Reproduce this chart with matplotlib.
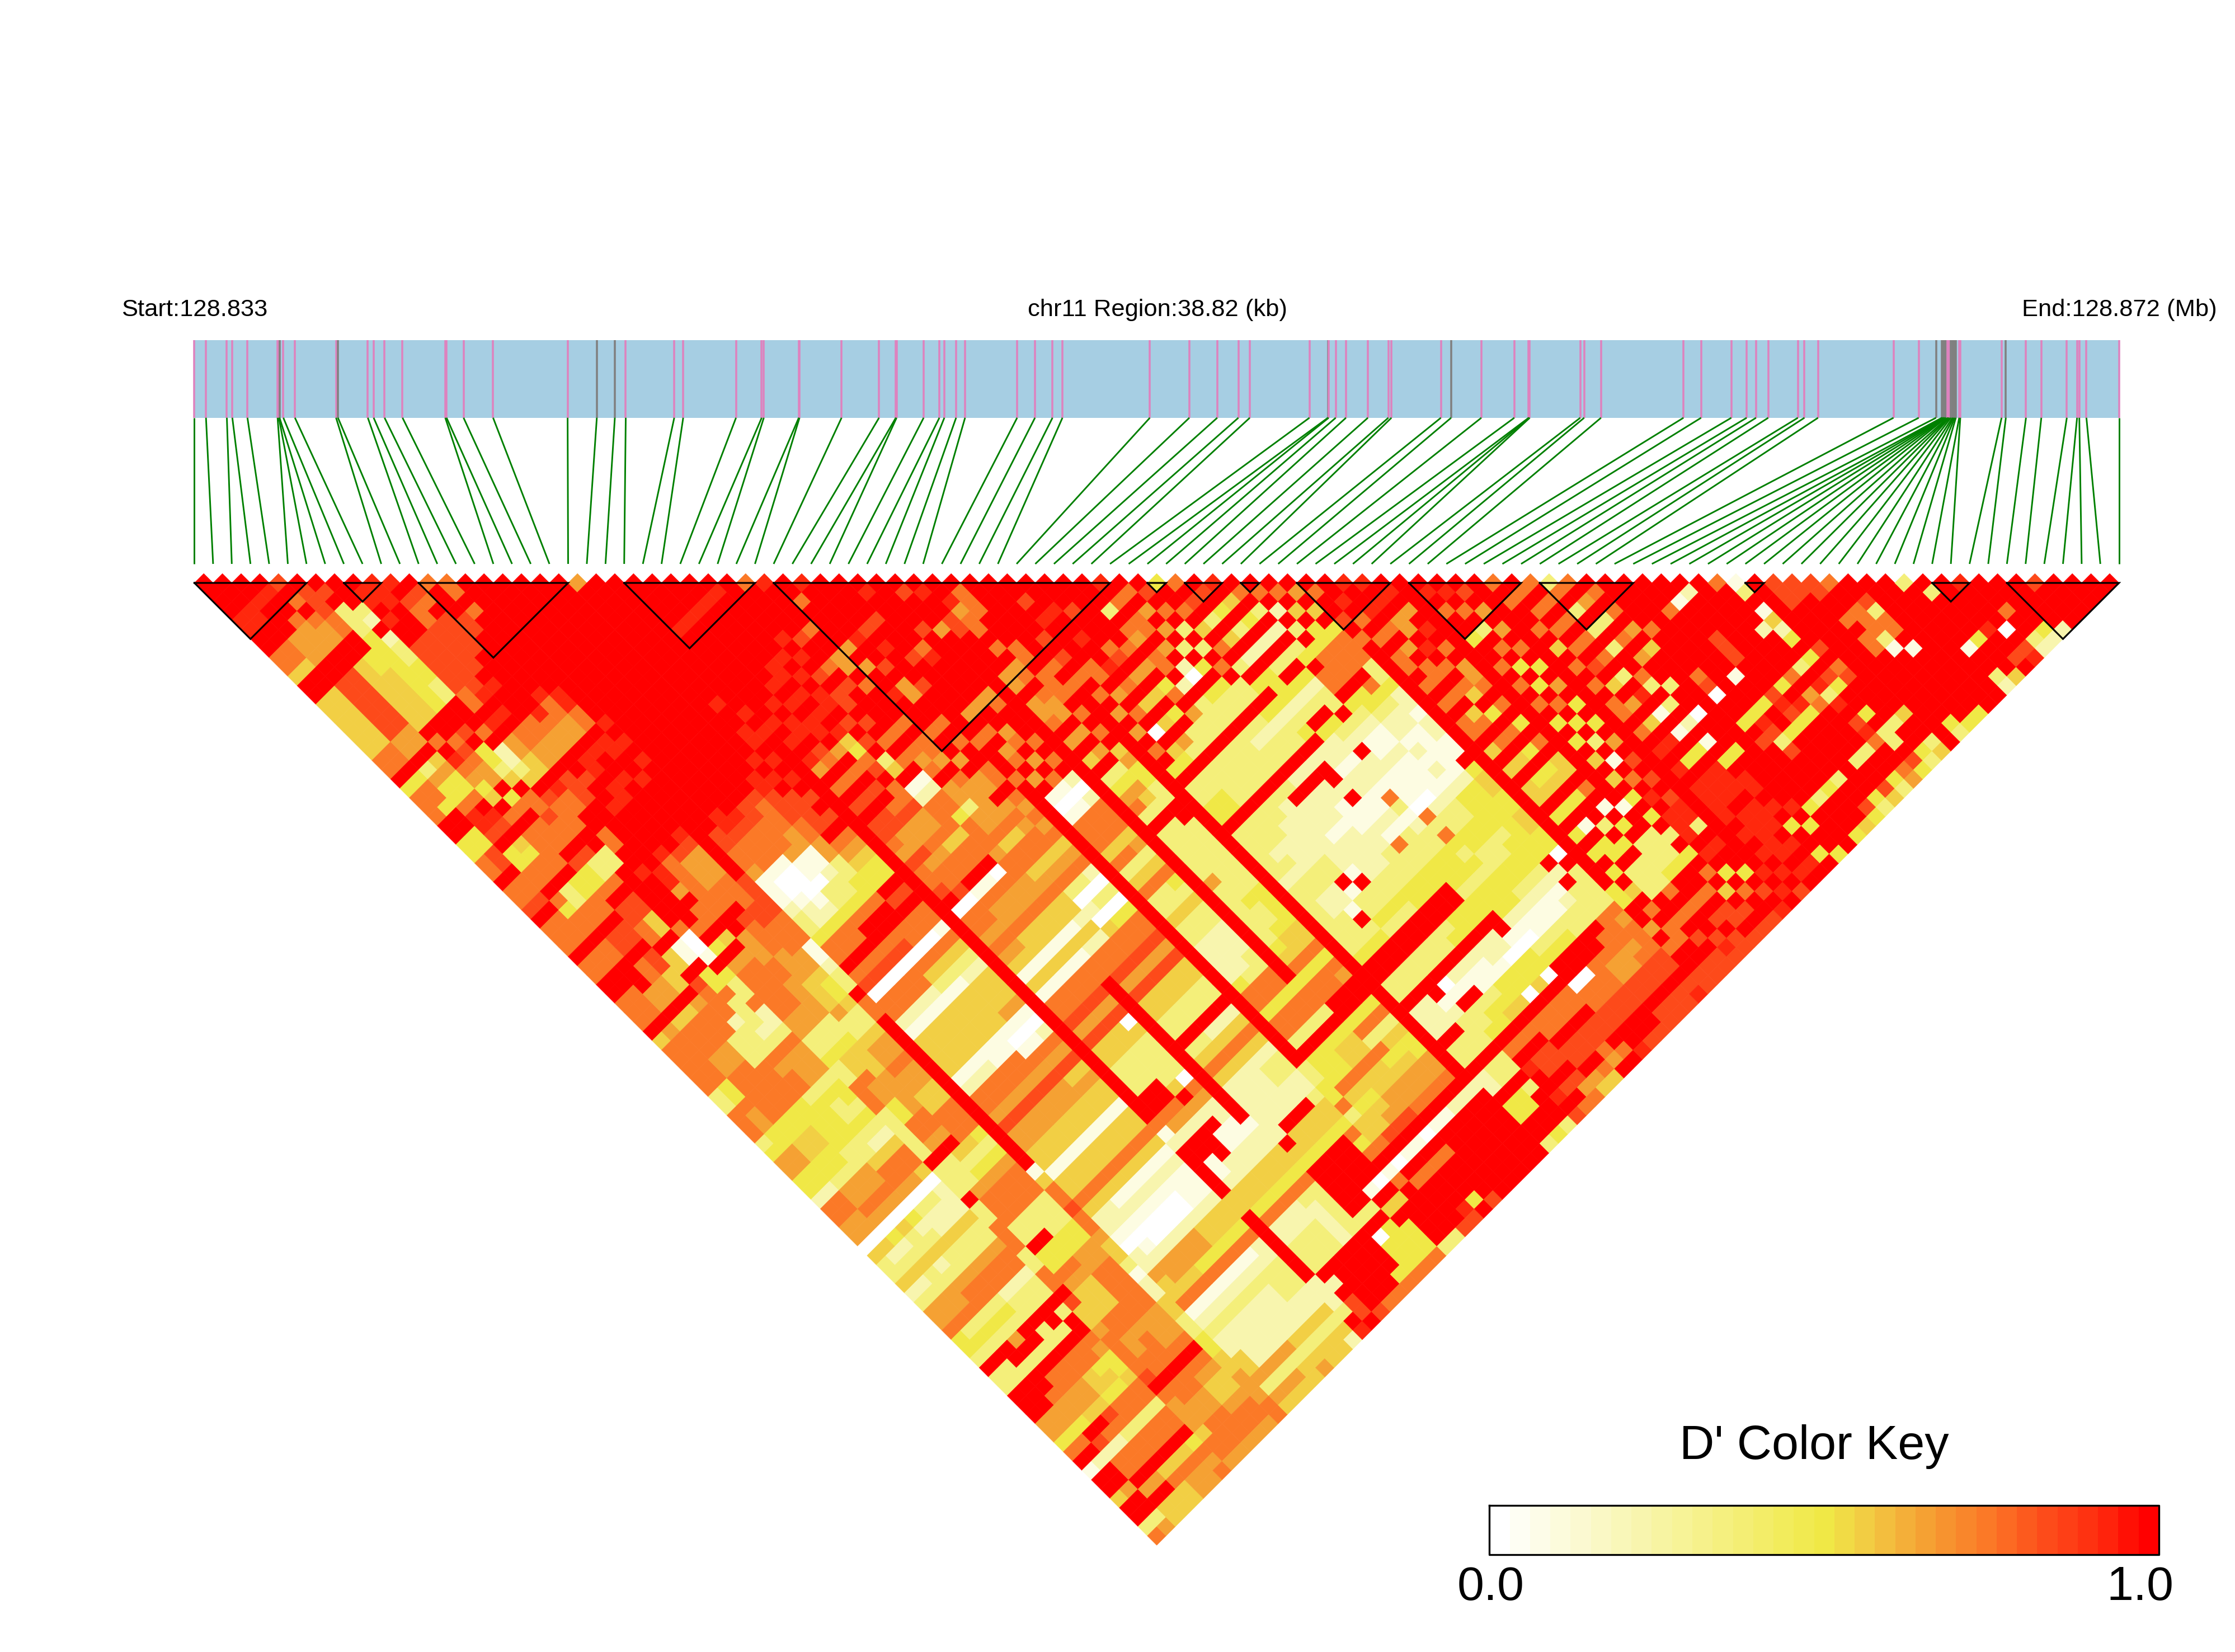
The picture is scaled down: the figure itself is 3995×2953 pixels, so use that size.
import matplotlib
matplotlib.use('Agg')
import matplotlib.pyplot as plt
from matplotlib.collections import PolyCollection, LineCollection
from matplotlib.colors import LinearSegmentedColormap

plt.rcParams['font.family'] = ['Liberation Sans', 'DejaVu Sans']

# snp positions on the gene bar (pixels of the reference), index 0..103
SNP_POS = [347.5, 368.2, 405.5, 415.3, 442.3, 496.2, 498.5, 499.7, 506.5, 527.2, 600.7, 604.1,
           657.5, 667.9, 687.4, 719.5, 795.9, 798.2, 828.6, 881.4, 1014.6, 1066.8, 1099.0,
           1118.5, 1205.2, 1221.2, 1315.6, 1361.5, 1365.3, 1427.8, 1429.1, 1504.3, 1571.3,
           1601.3, 1602.6, 1651.0, 1679.1, 1688.0, 1709.0, 1725.0, 1818.1, 1850.0, 1881.3,
           1899.1, 2055.4, 2126.0, 2175.8, 2213.6, 2234.0, 2340.6, 2373.6, 2375.0, 2387.6,
           2405.9, 2445.1, 2481.6, 2487.2, 2575.6, 2593.9, 2647.9, 2706.8, 2732.5, 2733.5,
           2734.5, 2824.7, 2831.7, 2861.8, 3009.2, 3040.7, 3094.7, 3122.1, 3138.9, 3160.7,
           3213.7, 3225.4, 3249.7, 3384.6, 3429.7, 3460.6, 3471.0, 3472.5, 3474.0, 3475.5,
           3477.0, 3478.5, 3481.5, 3483.0, 3484.5, 3487.0, 3490.0, 3492.0, 3494.0, 3496.0,
           3502.0, 3504.0, 3577.8, 3585.4, 3621.4, 3648.8, 3694.4, 3712.7, 3716.7, 3729.4, 3787.7]
GRAY_SNPS = [7, 11, 21, 22, 50, 58, 78, 79, 80, 81, 82, 83, 84, 88, 89, 90, 91, 92, 96]

LD_BLOCKS = [(0, 6), (8, 10), (12, 20), (23, 30), (31, 49), (51, 52), (53, 55), (56, 57),
             (59, 64), (65, 71), (72, 77), (83, 84), (93, 95), (97, 103)]

# D' level per cell, one string per SNP i, right aligned so the last char is j=103
LEVELS = {'0': 0.0, '1': 0.08, '2': 0.22, '3': 0.36, '4': 0.5, '5': 0.56, '6': 0.66,
          '7': 0.75, '8': 0.85, '9': 0.93, 'r': 1.0}
LD_ROWS = [
    "rrr r99rr775rr 55555577r4 777rr4477r 778r777r77 rr777r5777 7733777346 6442776605 3352366744 3r33rrr664 7r1rr5rr37",
    "rr r99rr775rr 55555577r4 774rr4488r 778r777r77 rr777r6777 7744766446 6442776605 2352366734 3r33rrr664 7r2rr6rr36",
    "r r9rrr666rr 88888866r3 6447998r44 77r7477r77 rrr66r5777 6677777445 5443667604 2353366734 3rr3rr7664 r8277r6r55",
    "r9rr7666rr 88888866r5 6447r98r54 77r3377r88 r7766r5777 6677777445 5443667605 3352367734 36r3r77665 r7277r6r55",
    "8r7r766rr 5555555r7r 97645r7r77 77r4477r88 r8855r6777 3337777444 4433667604 2353367734 3rr3r77665 87377r5755",
    "r88877rr 4455555rr7 8766r47r77 7r8447r887 7r55r87772 3337677344 4433577603 2253367723 3r33r77554 77377r5766",
    "r8r3334 4444444rr8 r4435r7787 7r8337r885 5r11r44733 3237666343 3432577603 2253367723 3rr3r77454 77377r5766",
    "rrr32r 2334433rrr 7r2235r877 7rr33rrrrr r7001r4337 2237666344 3432577502 2253367723 3r3rr76445 77377r4767",
    "r99r9 rr8888877r 9r6655r977 rr77rr9rrr rr7r4r6777 7766334337 7733333r33 3r33777337 7r85567777 8r76665776",
    "999r rr8888889r 9r7766r888 rrrrrrr996 r77r5r6777 7766334557 6644776r33 3677733r44 7655577667 7r77667776",
    "9r8 7788888r9r rr7766rr8r r9rrrr9777 777rr66677 6666334555 6666776r53 4677733r44 7655577677 7r77667776",
    "r8 7r8888rrrr rr9766r99r 99rrrrr866 677r877766 6555633566 7665577753 4677733344 6677777666 7r76556776",
    "7 rrr88rrrrr r97766r9rr 9rrrrr9866 6777887776 6544533566 7665577743 4677733344 6677777666 7r76556776",
    "77r7rrrrrr rr9977r99r r9rrrrrrrr rr88887771 1233r77rrr rrrrrrrrrr rrr1577877 6553122553 3445566677",
    "rrrrrrrrr rrrrrr9r9r 9rrrrrrr88 7761112334 77r7807721 5555127768 6655155752 2102265571 2322556365",
    "rrrrrrrr rrrrrrrrrr rrrrrrr998 7771001224 77r7807721 5555127768 6655155752 2101266571 2322226365",
    "rrrrrrr rrrrrrrrrr rrrrrrrr98 7771000124 77r7807721 5555127768 6655155751 2100266571 2322226365",
    "rrrrrr rrrrrrrrrr rrrrrrrr88 7776110334 7rr7807721 5555117768 6655155751 2100266471 2322226355",
    "rrrrr rrrrrrrrrr rrrrrrrr87 7766112334 7rr7807531 5555117768 6655155751 2100266471 2322225356",
    "rrrr rrrrrrrrrr rrrrrrr998 8877663344 7rr7707531 5555101768 6655155751 2100255471 2322225355",
    "6rr rrrrrrrrrr rrrrrr9r9r 8888r76544 r8r7707532 5556101768 5655155751 2111255471 2333225355",
    "rr rrrrrrrrrr r9rr99r9r9 r8r8r76544 r8r7717532 5556102768 5655155751 2111255472 2333225352",
    "r rrrrrrrrrr rrr9r9rrrr rrrrrrrrrr rrrrrrrrrr rrrrrrrrrr rrrrrrr712 rrrrr55rrr rrrr2223r9",
    "rrrrr9rrrr rrrrr9r9r9 6r7r8r8876 8778r07767 6515177868 55333rr762 rr11255472 2333r2r88r",
    "rrrr9rrrr rrrr9r99r8 7r7r8r8866 8677807767 6515177868 55333rr762 rrr2255472 2333rrrrr8",
    "rrr9rrrr rrr9r9r99r 6r7r8r7866 7677r17667 5515177868 5533335r62 r112255472 2333rrrrr7",
    "rr9rrrr rr99r9r9r9 5478r77866 7577r17667 5515177868 0533330762 2112255473 2222rrrrr7",
    "r9rrrr rr9r9r99r8 r8r35r1277 7577r07667 5515177rrr rrrrrrrrrr rr12255473 3333rrrr47",
    "rrrrr r9r9r8r88r 8r7r7r1277 4777677667 5515277868 5533r35752 22222r54rr rrr3r04447",
    "7rrr rr8rr7r8rr rr7r767r66 3667577567 5525277868 5533r35752 2222r554rr rrr3r44447",
    "9rr rr7rr66r7r rr7r776r76 6667577567 3020577868 5533r25752 2222r554rr rr1r5r4447",
    "rr 7rrrr6r6rr 9rrr7rr6r6 6r67677567 3030477868 5533r25752 3322r554rr rr0r5rrrr3",
    "r 9rrrrr9rr8r 66rr7r7rr7 7r76767567 2030477868 5533r25752 3322355474 7r17rrrrr3",
    "rrrrr8r9rr r8rrrrr7rr r7rrrrrrrr rrrrrrrrrr rrrrrrrrrr rr33447355 7r0r7rrrr8",
    "rrrr8rrr8 rrrrr6r7r6 7r6r101777 5735733533 2222477477 3r44475455 8r1r7rrr98",
    "r9rrrrr7 9rrrr6rr67 r6r7101777 5735733533 2222377477 3r44475456 8r1r7rrr4r",
    "rrrrr8r rrrrr67rrr 7r7r202777 5635743533 2223377477 3r45575566 8r0r7rrrr8",
    "r8rrr6 rrrrrrrrrr rrrrrrrrrr rrrrrrrrrr rrrrrrr477 3r45575566 7r1rrrrrrr",
    "r9rr8 8rrrr66r66 7r6r5r3467 3r33333633 3333457477 rr47374566 7r1rrrrrrr",
    "rr96 77r7r67r76 6r6r6r3465 3r33333333 4334557477 rr47354566 7r2rrrrrrr",
    "r77 7rrr77r777 r7r7r56443 3rr3333333 4444557476 rr47354466 7r2rrrrrrr",
    "rr rrrrrrr7r7 rrrrrrrrrr rrrrrrrrrr rrrrrrrrrr rrrrrrrrrr rr2rrrrrrr",
    "r rrrrr8r8r7 r7r6r6r7r4 r3344r3333 3233333334 rr33r222r3 3r22r44rr3",
    "rr8r9rrrr7 7r6r7r0r54 r3344r3332 3233223334 rr33r222r3 3r33r44rr4",
    "rrr9rr9rr 9r7r5r5r63 r3333r3332 2233221r34 rr33rr1233 3r33r3rrr3",
    "rrr8rrr7 8r6r5r4r33 r3333r3322 2233r13343 rr33r01r33 4r7r9rr9r8",
    "rrrrrrr 7r6r47r633 r3333r3222 22221r3343 rr33r21r34 4r7r88r8r7",
    "rrr3r7 6r77r2r333 r3333r3r22 2122223343 rr33r21134 5r7r88r867",
    "9r7r7 7r6r20r433 r3233r2r22 2122223344 rr34r21144 5r77r88r65",
    "r7r6 r6r3r4r433 r3233r2r22 1112233344 rr44r22144 0r77r88r75",
    "r8r 7r3r3r7r33 r4233r2rr2 r112173344 rr44r22044 5r77r8876r",
    "4r r7r5r7r3r4 r4234r2212 2112133344 4344rr1044 0r77r88r7r",
    "7 r8r3r5r2r4 4423r42212 2173123344 4344421034 rr07788rr9",
    "r8r4r3r2r3 r423r432r2 2111073743 4344421134 rr07788rr8",
    "9r5r4r2r3 r4233r3211 2111023344 3344321134 rr77788rr8",
    "r7r3r2r3 4r77r43211 2111123344 3344321133 rr76688r88",
    "r7r2r3r 4777r44322 1212124444 3444321233 r776688r88",
    "r7r5r4 4777r74322 1111124444 4444r2r333 7776788r88",
    "r6r5r 4777334221 2211r45544 55440r3333 7677788r89",
    "r7rr 8r7rrrrrrr rrrrrrrrrr rrrrrrrrr4 4rr6r7rr88",
    "rr9 r7r7r77r7r 7r77r5r5r5 5r4r4r4r4r 5r7r77rr88",
    "9r r9r7r6r77r 7r57r7r5r4 5r4r1r44r3 33rr7r8r88",
    "9 r9r66r9r7r 75r4r7r4r4 5r4rr3r4r3 337r7rr898",
    "r9r6r9r7r6 67r7r4r7r5 5r7r1r4r33 34rr7r8r88",
    "rrrrrrrrr rrrrrrrrrr rrrrr1rr33 34rr7r88r8",
    "r9r7rr4r r7r7r7r4r4 r5r5r4r4r3 r4r7r5r8r8",
    "r9r7r3r 7r4r4r7r4r 3r1r7r9r99 9r9r4r7rr8",
    "r8r6r6 r7r4r6r4r4 r6r8r8r899 3r9rr4r8r9",
    "rrrrr rrrrrrrrrr rrrrrrrrrr rrrrrr9r9r",
    "7r7r r7r5r7r7r7 7r7r9r9r99 99r9r9r9r8",
    "r7r 7r7r7r8r5r 6r5r9r4r99 9r99999r9r",
    "7r 7r7r7r7r3r 9r1r1r4r99 9r999r9r9r",
    "3 7r3r3r3rr7 3r3r2r1r4r 99r9r4rr4r",
    "7r6r3r7r6r r3rr0rrr4r rrrr9r4rr4",
    "r7r7r6r5r rrrrrrrrrr rrrrr4rrrr",
    "rrrrr7rr rr780rr4r8 rrrrr3rrr4",
    "rrrrrrr rrrrrrr498 38rrr4rrr5",
    "rrr7rr rrrr1rr4rr 4rrrr3rr84",
    "rr1rr r888rrr898 4rrrrrrr43",
    "r2rr rrrrrrr4r9 4rrrr3rr85",
    "rrr rrrrrrr7r6 7rrrr3rr43",
    "7r rrr2rrr3r9 39r897rr76",
    "1 3r1524r4r8 4rr4r33r84",
    "rrrrrrr8r7 8rrrr3rr43",
    "888rrrrrr rrrrr5rr35",
    "88rrrrrr rrrrrrrrrr",
    "88rr7r7 7rrrrrrr43",
    "7rr777 31rrrrrrr4",
    "rr837 7r1rrrrrr4",
    "rrrr rrrrrrrrrr",
    "rrr rrrrrrrrrr",
    "3r rrrrr1rr32",
    "r 3rrrr4rrr5",
    "rrrrr9rr8r",
    "9rrrr0r89",
    "rrr7rr32",
    "rrrrr42",
    "rrrrr2",
    "8rrrr",
    "rrrr",
    "rrr",
    "rr",
    "r",
]
ROW_PAD = 'r'

CMAP_COLORS = [(0.0, '#ffffff'), (0.5, '#f0e946'), (0.56, '#f2cf44'), (0.66, '#f5a033'),
               (0.75, '#fb7a27'), (0.85, '#fd4a1a'), (0.93, '#ff2a0e'), (1.0, '#ff0000')]
N_KEY = 33

# layout, reference pixels
W, H = 3995, 2953
X0, DX = 347.5, 33.4
Y_BASE = 1042
BAR_TOP, BAR_BOT = 607.5, 746.8
LINE_BOT = 1008
KEY_L, KEY_R, KEY_T, KEY_B = 2662.4, 3859, 2691, 2779

fig = plt.figure(figsize=(W / 300, H / 300), dpi=300)
ax = fig.add_axes([0, 0, 1, 1])
ax.set_xlim(0, W)
ax.set_ylim(H, 0)
ax.axis('off')

cmap = LinearSegmentedColormap.from_list('dprime', CMAP_COLORS)
n = len(SNP_POS)

# heatmap diamonds
polys, cols = [], []
for i in range(n - 1):
    size = n - 1 - i
    row = LD_ROWS[i].replace(' ', '')
    row = row[-size:].rjust(size, ROW_PAD)
    for k, ch in enumerate(row):
        j = i + 1 + k
        cx = X0 + (i + j) / 2 * DX
        cy = Y_BASE + (j - i - 1) / 2 * DX
        h = DX / 2
        polys.append([(cx - h, cy), (cx, cy - h), (cx + h, cy), (cx, cy + h)])
        cols.append(cmap(LEVELS[ch]))
ax.add_collection(PolyCollection(polys, facecolors=cols, edgecolors='face', linewidths=0.15))

# LD block outlines
for a, b in LD_BLOCKS:
    xa, xb = X0 + a * DX, X0 + b * DX
    ax.plot([xa, xb, (xa + xb) / 2, xa], [Y_BASE, Y_BASE, Y_BASE + (b - a) / 2 * DX, Y_BASE],
            color='black', lw=0.75, solid_joinstyle='miter')

# gene bar with SNP ticks
ax.fill_between([X0, X0 + 103 * DX], BAR_TOP, BAR_BOT, color='#a6cee3', lw=0)
ax.vlines(SNP_POS, BAR_TOP, BAR_BOT,
          colors=['#808080' if s in GRAY_SNPS else '#de82be' for s in range(n)], lw=0.85)

# connector lines
segs = [[(SNP_POS[s], BAR_BOT), (X0 + s * DX, LINE_BOT)] for s in range(n)]
ax.add_collection(LineCollection(segs, colors='#008000', linewidths=0.7))

# labels
ax.text(348, 565, 'Start:128.833', fontsize=10.45, ha='center', va='baseline')
ax.text(2069, 565, 'chr11 Region:38.82 (kb)', fontsize=10.45, ha='center', va='baseline')
ax.text(3788, 565, 'End:128.872 (Mb)', fontsize=10.45, ha='center', va='baseline')

# colour key
for b in range(N_KEY):
    xa = KEY_L + (KEY_R - KEY_L) * b / N_KEY
    xb = KEY_L + (KEY_R - KEY_L) * (b + 1) / N_KEY
    ax.fill_between([xa, xb], KEY_T, KEY_B, color=cmap(b / (N_KEY - 1)), lw=0)
ax.plot([KEY_L, KEY_R, KEY_R, KEY_L, KEY_L], [KEY_T, KEY_T, KEY_B, KEY_B, KEY_T], color='black', lw=0.8)
ax.text(3243, 2608, "D' Color Key", fontsize=20.7, ha='center', va='baseline')
ax.text(2665, 2860, '0.0', fontsize=20.7, ha='center', va='baseline')
ax.text(3825, 2860, '1.0', fontsize=20.7, ha='center', va='baseline')

fig.savefig('out.png', dpi=300)
